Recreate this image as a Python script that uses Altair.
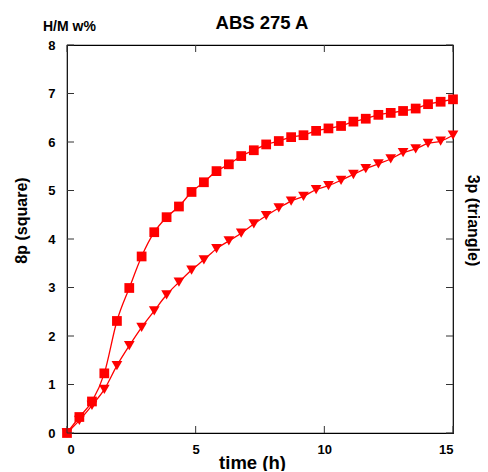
import altair as alt
import pandas as pd

# time (h) of each sample
times = [0, 0.48, 0.97, 1.45, 1.94, 2.42, 2.90, 3.39, 3.87, 4.35, 4.84, 5.32,
         5.81, 6.29, 6.77, 7.26, 7.74, 8.23, 8.71, 9.19, 9.68, 10.16, 10.65,
         11.13, 11.61, 12.10, 12.58, 13.06, 13.55, 14.03, 14.52, 15.00]
# 8p (square) H/M w%
square_vals = [0, 0.33, 0.65, 1.23, 2.31, 2.99, 3.64, 4.14, 4.45, 4.67, 4.97, 5.17,
               5.40, 5.54, 5.71, 5.83, 5.95, 6.02, 6.10, 6.14, 6.23, 6.28, 6.33,
               6.42, 6.48, 6.56, 6.60, 6.64, 6.69, 6.78, 6.83, 6.88]
# 3p (triangle) H/M w%
triangle_vals = [0, 0.26, 0.57, 0.90, 1.39, 1.80, 2.18, 2.52, 2.85, 3.11, 3.36, 3.57,
                 3.80, 3.96, 4.12, 4.31, 4.48, 4.64, 4.78, 4.88, 5.02, 5.10, 5.21,
                 5.33, 5.45, 5.55, 5.65, 5.78, 5.86, 5.97, 6.02, 6.14]
series_names = ["square", "triangle"]
marker_shapes = ["square", "triangle-down"]
marker_sizes = [95, 115]
x_ticks = [0, 5, 10, 15]
y_ticks = [0, 1, 2, 3, 4, 5, 6, 7, 8]
chart_title = "ABS 275 A"
unit_text = "H/M w%"

rows = []
for t, v in zip(times, square_vals):
    rows.append({"t": t, "v": v, "s": series_names[0]})
for t, v in zip(times, triangle_vals):
    rows.append({"t": t, "v": v, "s": series_names[1]})
df = pd.DataFrame(rows)

W, H = 386, 388
FONT = "Liberation Sans"
RED = "#ff0000"

xscale = alt.Scale(domain=[0, 15], nice=False, zero=False)
yscale = alt.Scale(domain=[0, 8], nice=False, zero=False)

x_axis = alt.Axis(values=x_ticks, tickSize=0, domain=False, grid=False,
                  labelFont=FONT, labelFontSize=13, labelFontWeight="bold",
                  labelColor="black", labelPadding=10,
                  title="time (h)", titleFont=FONT, titleFontSize=18.5,
                  titleFontWeight="bold", titleColor="black",
                  titleX=185, titleY=35, titleBaseline="alphabetic")

y_axis_left = alt.Axis(values=y_ticks, tickSize=0, domain=False, grid=False,
                       labelFont=FONT, labelFontSize=13, labelFontWeight="bold",
                       labelColor="black", labelPadding=12,
                       title="8p (square)", titleFont=FONT, titleFontSize=16,
                       titleFontWeight="bold", titleColor="black",
                       titleX=-46, titleY=175, titleAlign="center",
                       titleBaseline="middle")

y_axis_right = alt.Axis(orient="right", values=y_ticks, tickSize=0, domain=False,
                        grid=False, labels=False,
                        title="3p (triangle)", titleFont=FONT, titleFontSize=16,
                        titleFontWeight="bold", titleColor="black",
                        titleAngle=90, titleX=19, titleY=175, titleAlign="center",
                        titleBaseline="middle")

base = alt.Chart(df)

lines = base.mark_line(color=RED, strokeWidth=1.3, interpolate="monotone").encode(
    x=alt.X("t:Q", scale=xscale, axis=x_axis),
    y=alt.Y("v:Q", scale=yscale, axis=y_axis_left),
    detail="s:N",
)

points = base.mark_point(filled=True, color=RED, opacity=1).encode(
    x=alt.X("t:Q", scale=xscale, axis=x_axis),
    y=alt.Y("v:Q", scale=yscale, axis=y_axis_right),
    shape=alt.Shape("s:N", scale=alt.Scale(domain=series_names, range=marker_shapes),
                    legend=None),
    size=alt.Size("s:N", scale=alt.Scale(domain=series_names, range=marker_sizes),
                  legend=None),
)

ytick_df = pd.DataFrame({"v": y_ticks})
xtick_df = pd.DataFrame({"t": x_ticks})

left_ticks = alt.Chart(ytick_df).mark_rule(color="#333333", strokeWidth=1).encode(
    y=alt.Y("v:Q", scale=yscale, axis=None), x=alt.value(0), x2=alt.value(7))
right_ticks = alt.Chart(ytick_df).mark_rule(color="#333333", strokeWidth=1).encode(
    y=alt.Y("v:Q", scale=yscale, axis=None), x=alt.value(W - 7), x2=alt.value(W))
bottom_ticks = alt.Chart(xtick_df).mark_rule(color="#333333", strokeWidth=1).encode(
    x=alt.X("t:Q", scale=xscale, axis=x_axis), y=alt.value(H - 7), y2=alt.value(H))
top_ticks = alt.Chart(xtick_df).mark_rule(color="#333333", strokeWidth=1).encode(
    x=alt.X("t:Q", scale=xscale, axis=x_axis), y=alt.value(0), y2=alt.value(7))

unit_label = alt.Chart(pd.DataFrame({"lab": [unit_text]})).mark_text(
    font=FONT, fontSize=14, fontWeight="bold", color="black",
    align="left", baseline="middle").encode(
    text="lab:N", x=alt.value(-24), y=alt.value(-18))

title_label = alt.Chart(pd.DataFrame({"lab": [chart_title]})).mark_text(
    font=FONT, fontSize=18.5, fontWeight="bold", color="black",
    align="center", baseline="alphabetic").encode(
    text="lab:N", x=alt.value(195), y=alt.value(-16))

chart = alt.layer(
    lines, points, left_ticks, right_ticks, bottom_ticks, top_ticks,
    unit_label, title_label
).resolve_axis(y="independent").properties(
    width=W, height=H,
    autosize=alt.AutoSizeParams(type="none"),
    padding={"left": 59, "top": 37, "right": 27, "bottom": 38},
    background="white",
).configure_view(stroke="black", strokeWidth=1.2)

chart.save("out.html", embed_options={"renderer": "svg", "actions": False})
